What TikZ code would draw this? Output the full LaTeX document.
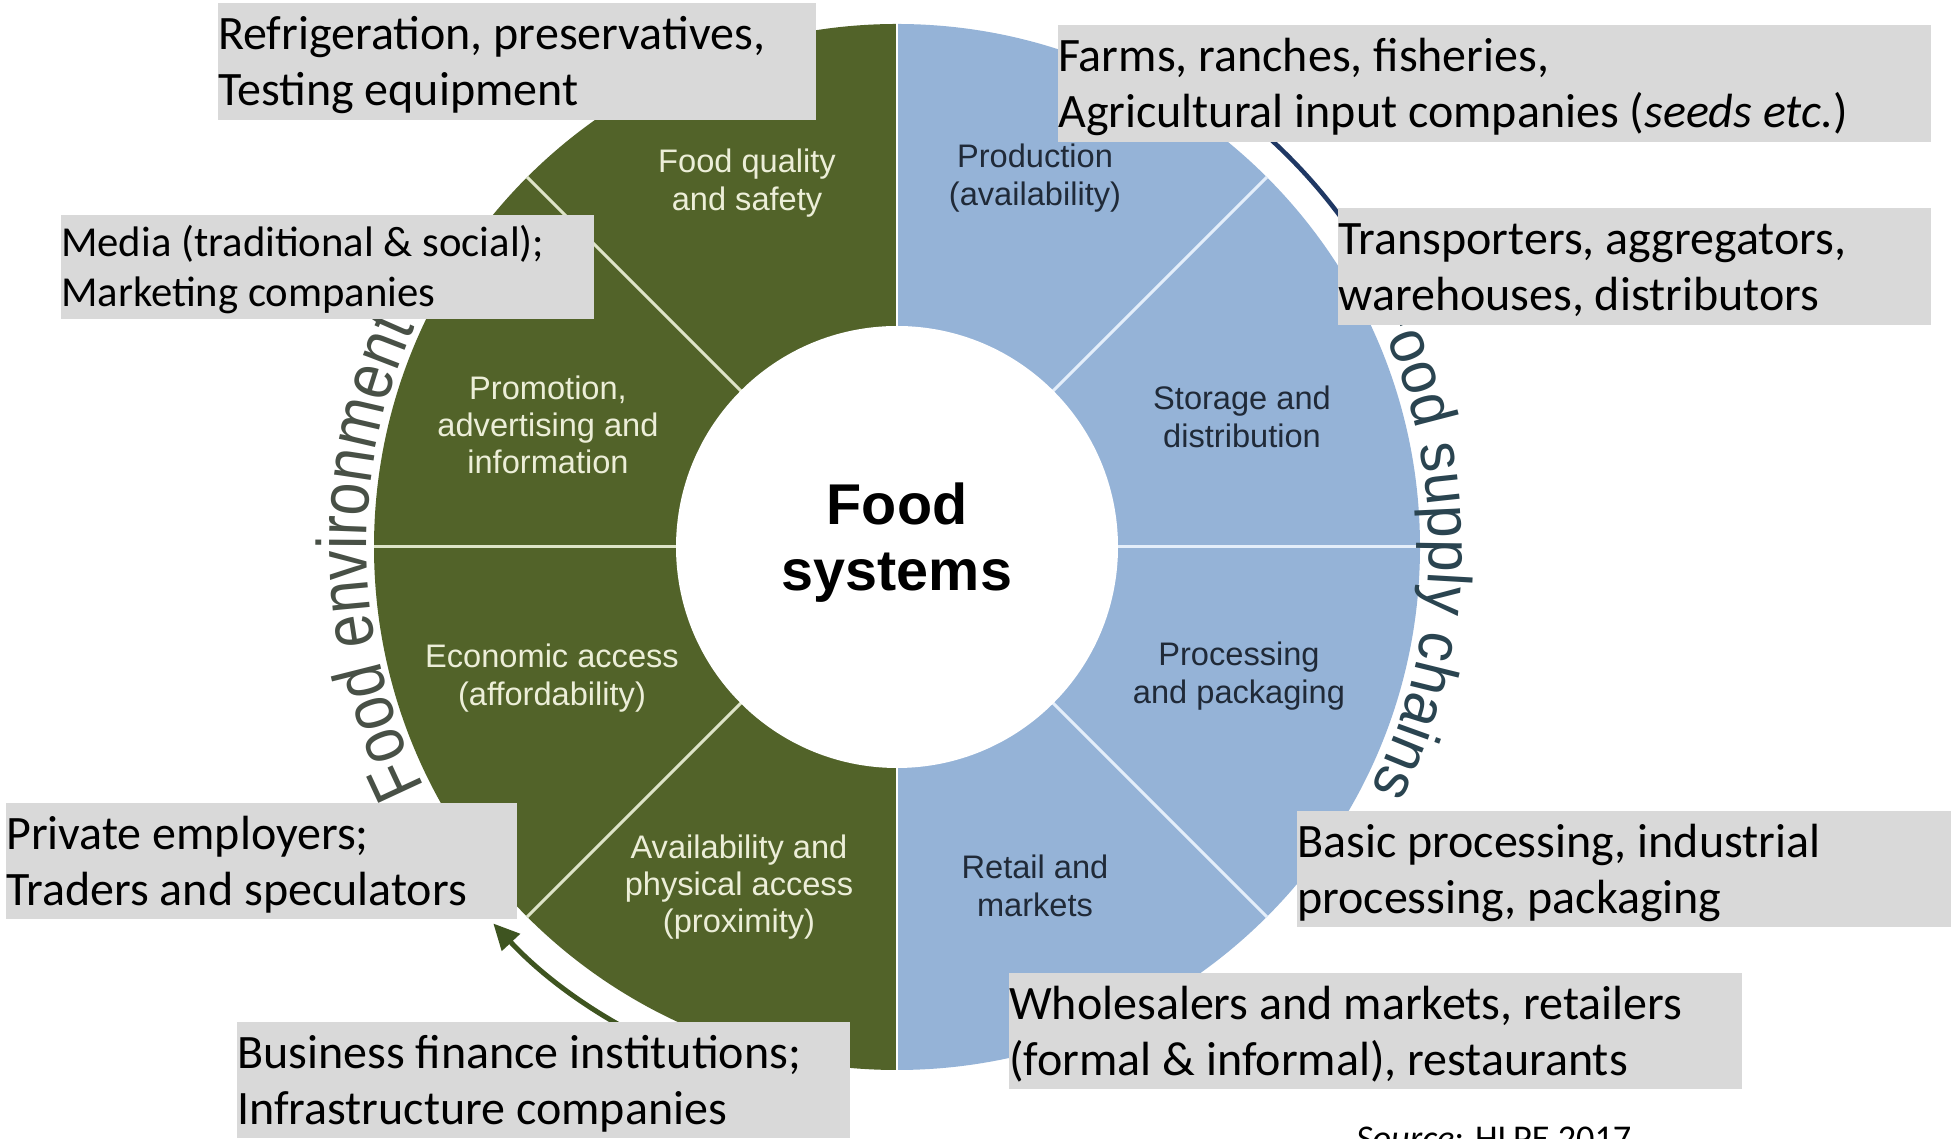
\documentclass[tikz,border=0pt]{standalone}
\usepackage{fontspec}
\setmainfont{Carlito}
\newfontfamily\fntsec{Liberation Sans}
\newfontfamily\arcfamA[FakeStretch=0.843]{Liberation Sans}
\newfontfamily\arcfamB[FakeStretch=0.94]{Liberation Sans}
\usetikzlibrary{arrows.meta,decorations.text}
\definecolor{envgreen}{RGB}{82,99,41}
\definecolor{supblue}{RGB}{149,179,215}
\definecolor{boxgray}{RGB}{217,217,217}
\definecolor{gtext}{RGB}{236,238,216}
\definecolor{btext}{RGB}{32,42,56}
\definecolor{arrgreen}{RGB}{62,84,32}
\definecolor{arrnavy}{RGB}{31,56,100}
\definecolor{arcgtext}{RGB}{72,80,70}
\definecolor{arcbtext}{RGB}{42,68,80}
\definecolor{gdivc}{RGB}{222,228,200}
\definecolor{bdivc}{RGB}{228,238,250}
\newcommand\arcfntA{\arcfamA\fontsize{70}{72}\selectfont}
\newcommand\arcfntB{\arcfamB\fontsize{62}{64}\selectfont}
\begin{document}
\begin{tikzpicture}[x=1pt,y=1pt,
  gbox/.style={fill=boxgray, draw=none, inner sep=0pt, anchor=north west},
  btxt/.style={anchor=north west, inner sep=0pt, align=left, text=black, font=\fontsize{48}{56.5}\selectfont},
  mtxt/.style={anchor=north west, inner sep=0pt, align=left, text=black, font=\fontsize{42.7}{50.3}\selectfont},
  gsec/.style={align=center, text=gtext, inner sep=0pt, font=\fntsec\fontsize{32.6}{37.3}\selectfont},
  bsec/.style={align=center, text=btext, inner sep=0pt, font=\fntsec\fontsize{32.6}{37.3}\selectfont},
  gdiv/.style={draw=gdivc, line width=3pt},
  bdiv/.style={draw=bdivc, line width=3pt}]
\useasboundingbox (0,0) rectangle (1951,1139);
\clip (0,0) rectangle (1951,1139);
\fill[white] (0,0) rectangle (1951,1139);

\begin{scope}[shift={(897,592)}]
  % wheel
  \fill[envgreen] (0,0) -- (90:523pt) arc[start angle=90, end angle=270, radius=523pt] -- cycle;
  \fill[supblue] (0,0) -- (-90:523pt) arc[start angle=-90, end angle=90, radius=523pt] -- cycle;
  \foreach \a in {135,180,225} \draw[gdiv] (\a:200pt) -- (\a:523pt);
  \foreach \a in {45,0,-45} \draw[bdiv] (\a:200pt) -- (\a:523pt);
  \draw[white, line width=2pt] (90:200pt) -- (90:524pt);
  \draw[white, line width=2pt] (-90:200pt) -- (-90:524pt);
  \fill[white] (0,0) circle[radius=221pt];
  % outer arcs
  \draw[arrgreen, line width=5pt, -{Triangle[length=26pt,width=24pt]}]
    (255:552pt) arc[start angle=255, end angle=223, radius=552pt];
  \draw[arrnavy, line width=4.5pt] (62:553pt) arc[start angle=62, end angle=33, radius=553pt];
  \path[decorate, decoration={text along path, text={|\arcfntA|Food environment}, text align=center, text color=arcgtext}]
    (241.2:530pt) arc[start angle=241.2, end angle=121.2, radius=530pt];
  \path[decorate, decoration={text along path, text={|\arcfntB|Food supply chains}, text align=center, text color=arcbtext}]
    (60:532pt) arc[start angle=60, end angle=-60, radius=532pt];
  % centre and sector labels
  \node[align=center, inner sep=0pt, font=\fntsec\bfseries\fontsize{57.5}{66}\selectfont] (ctr) at (0,4) {Food\\systems};
  \node[gsec] (sq) at (-150,364) {Food quality\\and safety};
  \node[gsec] (sp) at (-349,122) {Promotion,\\advertising and\\information};
  \node[gsec] (se) at (-345,-131) {Economic access\\(affordability)};
  \node[gsec] (sa) at (-158,-340) {Availability and\\physical access\\(proximity)};
  \node[bsec] (bp) at (138,369) {Production\\(availability)};
  \node[bsec] (bs) at (345,130) {Storage and\\distribution};
  \node[bsec] (bk) at (342,-129) {Processing\\and packaging};
  \node[bsec] (br) at (138,-339) {Retail and\\markets};
\end{scope}

% grey label boxes
\node[gbox, minimum width=598, minimum height=117] (b1) at (218,1136) {};
\node[btxt] (t1) at ([yshift=-6.45]b1.north west) {\strut Refrigeration, preservatives,\\\strut Testing equipment};
\node[gbox, minimum width=873, minimum height=117] (b2) at (1058,1114) {};
\node[btxt] (t2) at ([yshift=-6.45]b2.north west) {\strut Farms, ranches, fisheries,\\\strut Agricultural input companies (\textit{seeds etc.})};
\node[gbox, minimum width=533, minimum height=104] (b3) at (61,924) {};
\node[mtxt] (t3) at ([yshift=-5.7]b3.north west) {\strut Media (traditional \& social);\\\strut Marketing companies};
\node[gbox, minimum width=593, minimum height=117] (b4) at (1338,931) {};
\node[btxt] (t4) at ([yshift=-6.45]b4.north west) {\strut Transporters, aggregators,\\\strut warehouses, distributors};
\node[gbox, minimum width=511, minimum height=116] (b5) at (6,336) {};
\node[btxt] (t5) at ([yshift=-6.45]b5.north west) {\strut Private employers;\\\strut Traders and speculators};
\node[gbox, minimum width=654, minimum height=116] (b6) at (1297,328) {};
\node[btxt] (t6) at ([yshift=-6.45]b6.north west) {\strut Basic processing, industrial\\\strut processing, packaging};
\node[gbox, minimum width=733, minimum height=116] (b7) at (1009,166) {};
\node[btxt] (t7) at ([yshift=-6.45]b7.north west) {\strut Wholesalers and markets, retailers\\\strut (formal \& informal), restaurants};
\node[gbox, minimum width=613, minimum height=116] (b8) at (237,117) {};
\node[btxt] (t8) at ([yshift=-6.45]b8.north west) {\strut Business finance institutions;\\\strut Infrastructure companies};

% source
\node[anchor=base west, inner sep=0pt, font=\fontsize{36.3}{40}\selectfont] (src) at (1356,-11.4) {\textit{Source}: HLPE 2017};
\end{tikzpicture}
\end{document}
